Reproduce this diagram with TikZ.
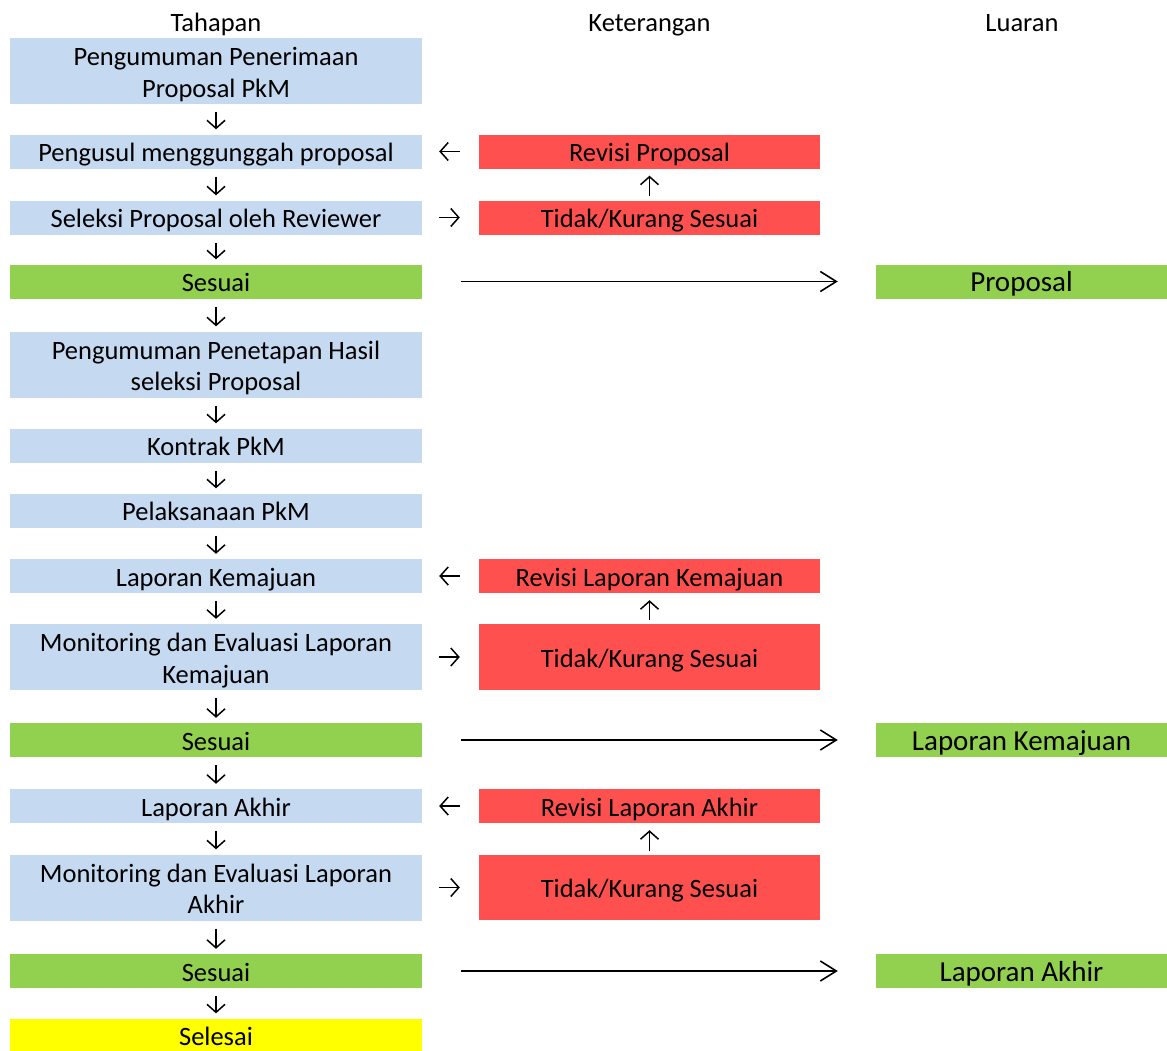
\documentclass[tikz,border=0pt]{standalone}
\usepackage{fontspec}
\setmainfont{Carlito}
\usetikzlibrary{arrows.meta}
\definecolor{tahap}{HTML}{C5D9F1}
\definecolor{merah}{HTML}{FF5050}
\definecolor{hijau}{HTML}{92D050}
\definecolor{kuning}{HTML}{FFFF00}
\tikzset{
  cell/.style={inner sep=0pt, align=center, text=black,
    font=\fontsize{26.5}{31.5}\selectfont,
    execute at begin node={\rule{0pt}{27pt}},
    execute at end node={\rule[-7pt]{0pt}{0pt}}},
  duabaris/.style={text height=59pt, text depth=7pt},
  kiri/.style={cell, minimum width=412pt},
  tengah/.style={cell, fill=merah, minimum width=341pt},
  kanan/.style={cell, fill=hijau, minimum width=291pt,
    font=\fontsize{29}{34}\selectfont},
  panah/.style={line width=1.5pt, -{Straight Barb[length=8pt,width=18pt,line width=1.5pt]}},
  panahpanjang/.style={line width=1.6pt, -{Straight Barb[length=16pt,width=20pt,line width=1.6pt]}},
}
\begin{document}
\begin{tikzpicture}[x=1pt,y=-1pt]
  \useasboundingbox (0,0) rectangle (1167,1050);
  % judul kolom
  \node[cell] (hTahap) at (216,21) {Tahapan};
  \node[cell] (hKet) at (649.5,21) {Keterangan};
  \node[cell] (hLuar) at (1022,21) {Luaran};
  % kolom tahapan
  \node[kiri, duabaris, fill=tahap, minimum height=66pt] (b1) at (216,71) {Pengumuman Penerimaan\\Proposal PkM};
  \node[kiri, fill=tahap, minimum height=32pt] (b2) at (216,151.5) {Pengusul menggunggah proposal};
  \node[kiri, fill=tahap, minimum height=33pt] (b3) at (216,217.5) {Seleksi Proposal oleh Reviewer};
  \node[kiri, fill=hijau, minimum height=33pt] (s1) at (216,281.5) {Sesuai};
  \node[kiri, duabaris, fill=tahap, minimum height=65pt] (b4) at (216,364.5) {Pengumuman Penetapan Hasil\\seleksi Proposal};
  \node[kiri, fill=tahap, minimum height=33pt] (b5) at (216,445.5) {Kontrak PkM};
  \node[kiri, fill=tahap, minimum height=33pt] (b6) at (216,510.5) {Pelaksanaan PkM};
  \node[kiri, fill=tahap, minimum height=32pt] (b7) at (216,576) {Laporan Kemajuan};
  \node[kiri, duabaris, fill=tahap, minimum height=66pt] (b8) at (216,657) {Monitoring dan Evaluasi Laporan\\Kemajuan};
  \node[kiri, fill=hijau, minimum height=34pt] (s2) at (216,740) {Sesuai};
  \node[kiri, fill=tahap, minimum height=32pt] (b9) at (216,806) {Laporan Akhir};
  \node[kiri, duabaris, fill=tahap, minimum height=65pt] (b10) at (216,887.5) {Monitoring dan Evaluasi Laporan\\Akhir};
  \node[kiri, fill=hijau, minimum height=34pt] (s3) at (216,971) {Sesuai};
  \node[kiri, fill=kuning, minimum height=29pt] (sel) at (216,1035.5) {Selesai};
  % kolom keterangan
  \node[tengah, minimum height=33pt] (r1) at (649.5,151.5) {Revisi Proposal};
  \node[tengah, minimum height=33pt] (t1) at (649.5,217.5) {Tidak/Kurang Sesuai};
  \node[tengah, minimum height=32pt] (r2) at (649.5,576) {Revisi Laporan Kemajuan};
  \node[tengah, minimum height=66pt] (t2) at (649.5,657) {Tidak/Kurang Sesuai};
  \node[tengah, minimum height=32pt] (r3) at (649.5,806) {Revisi Laporan Akhir};
  \node[tengah, minimum height=65pt] (t3) at (649.5,887.5) {Tidak/Kurang Sesuai};
  % kolom luaran
  \node[kanan, minimum height=33pt] (o1) at (1021.5,281.5) {Proposal};
  \node[kanan, minimum height=34pt] (o2) at (1021.5,740) {Laporan Kemajuan};
  \node[kanan, minimum height=34pt] (o3) at (1021.5,971) {Laporan Akhir};
  % panah ke bawah
  \foreach \a/\b in {b1/b2,b2/b3,b3/s1,s1/b4,b4/b5,b5/b6,b6/b7,b7/b8,b8/s2,s2/b9,b9/b10,b10/s3,s3/sel}
    \draw[panah, shorten <=8pt, shorten >=5pt] (\a) -- (\b);
  % panah revisi
  \foreach \t/\r in {t1/r1,t2/r2,t3/r3}
    \draw[panah, shorten <=4pt, shorten >=7pt] (\t) -- (\r);
  \foreach \r/\b in {r1/b2,r2/b7,r3/b9}
    \draw[panah, shorten <=19pt, shorten >=17pt] (\r) -- (\b);
  \foreach \b/\t in {b3/t1,b8/t2,b10/t3}
    \draw[panah, shorten <=17pt, shorten >=19pt] (\b) -- (\t);
  % panah luaran
  \foreach \s/\o in {s1/o1,s2/o2,s3/o3}
    \draw[panahpanjang, shorten <=39pt, shorten >=38pt] (\s) -- (\o);
\end{tikzpicture}
\end{document}
